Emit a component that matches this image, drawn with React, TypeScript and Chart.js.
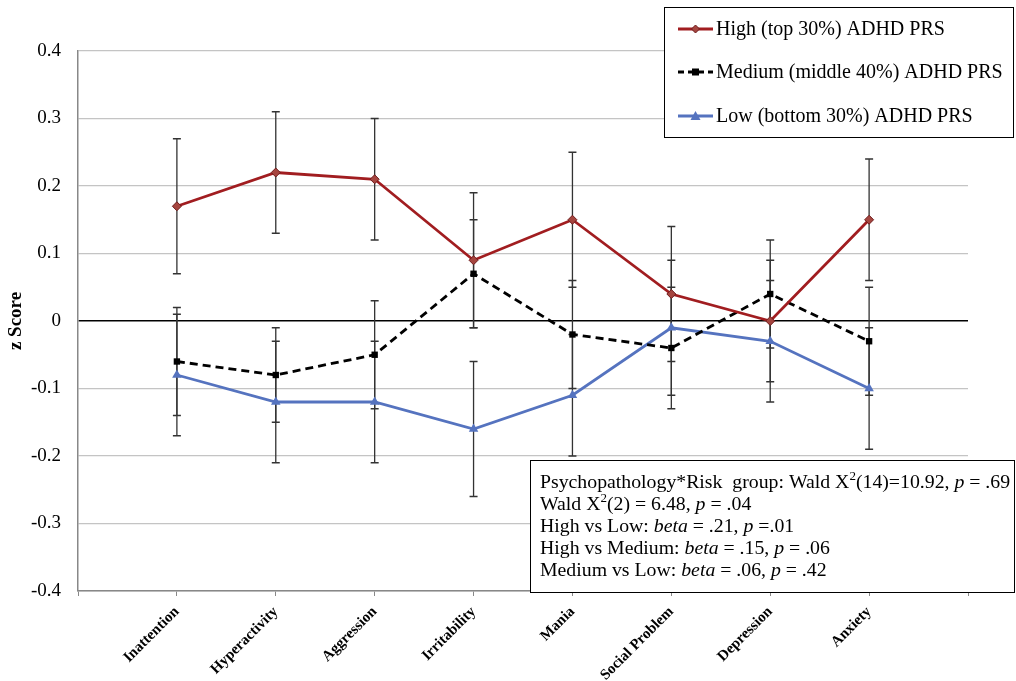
import { useEffect, useRef } from 'react';
import { Chart, registerables } from 'chart.js';

Chart.register(...registerables);

const categories = ['Inattention', 'Hyperactivity', 'Aggression', 'Irritability', 'Mania', 'Social Problem', 'Depression', 'Anxiety'];
const highMean = [0.17, 0.22, 0.21, 0.09, 0.15, 0.04, 0.0, 0.15];
const highErr = [0.10, 0.09, 0.09, 0.10, 0.10, 0.10, 0.09, 0.09];
const medMean = [-0.06, -0.08, -0.05, 0.07, -0.02, -0.04, 0.04, -0.03];
const medErr = [0.08, 0.07, 0.08, 0.08, 0.08, 0.09, 0.08, 0.08];
const lowMean = [-0.08, -0.12, -0.12, -0.16, -0.11, -0.01, -0.03, -0.10];
const lowErr = [0.09, 0.09, 0.09, 0.10, 0.09, 0.10, 0.09, 0.09];
const seriesNames = ['High (top 30%) ADHD PRS', 'Medium (middle 40%) ADHD PRS', 'Low (bottom 30%) ADHD PRS'];
const yMin = -0.4;
const yMax = 0.4;
const yStep = 0.1;

const SERIF = '"Liberation Serif", "Times New Roman", serif';
const RED = '#a11d20';
const RED_FILL = '#a5453f';
const RED_EDGE = '#6e1c1c';
const BLUE = '#5573bf';

type Seg = { t: string; it?: boolean; sup?: boolean };
const noteLines: Seg[][] = [
  [{ t: 'Psychopathology*Risk  group: Wald X' }, { t: '2', sup: true }, { t: '(14)=10.92, ' }, { t: 'p', it: true }, { t: ' = .69' }],
  [{ t: 'Wald X' }, { t: '2', sup: true }, { t: '(2) = 6.48, ' }, { t: 'p', it: true }, { t: ' = .04' }],
  [{ t: 'High vs Low: ' }, { t: 'beta', it: true }, { t: ' = .21, ' }, { t: 'p', it: true }, { t: ' =.01' }],
  [{ t: 'High vs Medium: ' }, { t: 'beta', it: true }, { t: ' = .15, ' }, { t: 'p', it: true }, { t: ' = .06' }],
  [{ t: 'Medium vs Low: ' }, { t: 'beta', it: true }, { t: ' = .06, ' }, { t: 'p', it: true }, { t: ' = .42' }],
];

const means = [highMean, medMean, lowMean];
const errs = [highErr, medErr, lowErr];

const errorBarPlugin = {
  id: 'errorBars',
  beforeDatasetsDraw(chart: any) {
    const ctx = chart.ctx;
    const xs = chart.scales.x;
    const ys = chart.scales.y;
    ctx.save();
    ctx.strokeStyle = '#333333';
    ctx.lineWidth = 1.3;
    means.forEach((m, d) => {
      m.forEach((v, i) => {
        const x = xs.getPixelForValue(i + 1);
        const yt = ys.getPixelForValue(v + errs[d][i]);
        const yb = ys.getPixelForValue(v - errs[d][i]);
        ctx.beginPath();
        ctx.moveTo(x, yt);
        ctx.lineTo(x, yb);
        ctx.moveTo(x - 4, yt);
        ctx.lineTo(x + 4, yt);
        ctx.moveTo(x - 4, yb);
        ctx.lineTo(x + 4, yb);
        ctx.stroke();
      });
    });
    ctx.restore();
  },
};

function drawMarker(ctx: CanvasRenderingContext2D, kind: number, x: number, y: number) {
  ctx.save();
  ctx.setLineDash([]);
  if (kind === 0) {
    ctx.fillStyle = RED_FILL;
    ctx.strokeStyle = RED_EDGE;
    ctx.lineWidth = 1;
    ctx.beginPath();
    ctx.moveTo(x, y - 4);
    ctx.lineTo(x + 4, y);
    ctx.lineTo(x, y + 4);
    ctx.lineTo(x - 4, y);
    ctx.closePath();
    ctx.fill();
    ctx.stroke();
  } else if (kind === 1) {
    ctx.fillStyle = '#000';
    ctx.fillRect(x - 3.5, y - 3.5, 7, 7);
  } else {
    ctx.fillStyle = BLUE;
    ctx.beginPath();
    ctx.moveTo(x, y - 5);
    ctx.lineTo(x + 5, y + 4);
    ctx.lineTo(x - 5, y + 4);
    ctx.closePath();
    ctx.fill();
  }
  ctx.restore();
}

const boxesPlugin = {
  id: 'boxes',
  afterDraw(chart: any) {
    const ctx: CanvasRenderingContext2D = chart.ctx;
    ctx.save();
    // Legend box
    const lx = 664, ly = 7, lw = 349, lh = 130;
    ctx.fillStyle = '#fff';
    ctx.fillRect(lx, ly, lw, lh);
    ctx.strokeStyle = '#000';
    ctx.lineWidth = 1;
    ctx.strokeRect(lx + 0.5, ly + 0.5, lw, lh);
    const rows = [29, 72, 116];
    const colors = [RED, '#000', BLUE];
    rows.forEach((ry, k) => {
      ctx.strokeStyle = colors[k];
      ctx.lineWidth = 2.8;
      ctx.setLineDash(k === 1 ? [6, 4] : []);
      ctx.beginPath();
      ctx.moveTo(678, ry);
      ctx.lineTo(713, ry);
      ctx.stroke();
      ctx.setLineDash([]);
      drawMarker(ctx, k, 695.5, ry);
      ctx.fillStyle = '#000';
      ctx.font = `20px ${SERIF}`;
      ctx.textBaseline = 'middle';
      ctx.textAlign = 'left';
      ctx.fillText(seriesNames[k], 716, ry + 1);
    });

    // Note box
    const nx = 530, ny = 460, nw = 484, nh = 132;
    ctx.fillStyle = '#fff';
    ctx.fillRect(nx, ny, nw, nh);
    ctx.strokeStyle = '#000';
    ctx.lineWidth = 1;
    ctx.strokeRect(nx + 0.5, ny + 0.5, nw, nh);
    ctx.fillStyle = '#000';
    ctx.textBaseline = 'alphabetic';
    noteLines.forEach((line, li) => {
      let x = 540;
      const base = 488 + li * 22;
      line.forEach((s) => {
        if (s.sup) {
          ctx.font = `13px ${SERIF}`;
          ctx.fillText(s.t, x, base - 8);
        } else {
          ctx.font = `${s.it ? 'italic ' : ''}19.8px ${SERIF}`;
          ctx.fillText(s.t, x, base);
        }
        x += ctx.measureText(s.t).width;
      });
    });
    ctx.restore();
  },
};

function formatY(v: number) {
  const r = Math.round(v * 10) / 10;
  return r === 0 ? '0' : r.toFixed(1);
}

export default function App() {
  const ref = useRef<HTMLCanvasElement | null>(null);
  useEffect(() => {
    document.body.style.margin = '0';
    if (!ref.current) return;
    const mk = (k: number) => means[k].map((y, i) => ({ x: i + 1, y }));
    const chart = new Chart(ref.current, {
      type: 'line',
      data: {
        datasets: [
          {
            label: seriesNames[0],
            data: mk(0),
            borderColor: RED,
            borderWidth: 2.8,
            pointStyle: 'rectRot',
            pointRadius: 4.5,
            pointBackgroundColor: RED_FILL,
            pointBorderColor: RED_EDGE,
            pointBorderWidth: 1,
            tension: 0,
          },
          {
            label: seriesNames[1],
            data: mk(1),
            borderColor: '#000',
            borderWidth: 2.8,
            borderDash: [8, 5],
            pointStyle: 'rect',
            pointRadius: 4.5,
            pointBackgroundColor: '#000',
            pointBorderColor: '#000',
            pointBorderWidth: 0,
            tension: 0,
          },
          {
            label: seriesNames[2],
            data: mk(2),
            borderColor: BLUE,
            borderWidth: 2.8,
            pointStyle: 'triangle',
            pointRadius: 5.5,
            pointBackgroundColor: BLUE,
            pointBorderColor: BLUE,
            pointBorderWidth: 0,
            tension: 0,
          },
        ],
      },
      options: {
        responsive: false,
        animation: false,
        devicePixelRatio: 1,
        layout: { padding: { top: 51, right: 48, bottom: 0, left: 0 } },
        plugins: { legend: { display: false }, tooltip: { enabled: false } },
        scales: {
          x: {
            type: 'linear',
            min: 0,
            max: 9,
            afterFit: (s: any) => { s.height = 90; },
            afterBuildTicks: (s: any) => { s.ticks = Array.from({ length: 10 }, (_, i) => ({ value: i })); },
            ticks: {
              stepSize: 1,
              autoSkip: false,
              minRotation: 45,
              maxRotation: 45,
              padding: 7,
              color: '#000',
              font: { family: SERIF, size: 15, weight: 'bold' },
              callback: (v: any) => categories[Number(v) - 1] ?? '',
            },
            grid: { drawOnChartArea: false, drawTicks: true, tickLength: 5, color: '#888' },
            border: { display: true, color: '#888', width: 1.5 },
          },
          y: {
            min: yMin,
            max: yMax,
            afterFit: (s: any) => { s.width = 78; },
            ticks: {
              stepSize: yStep,
              padding: 17,
              color: '#000',
              font: { family: SERIF, size: 19 },
              callback: (v: any) => formatY(Number(v)),
            },
            grid: {
              drawTicks: false,
              color: (c: any) => (Math.abs(c.tick?.value ?? 1) < 1e-9 ? '#000' : '#c4c4c4'),
              lineWidth: (c: any) => (Math.abs(c.tick?.value ?? 1) < 1e-9 ? 1.6 : 1.2),
            },
            border: { display: true, color: '#888', width: 1.5 },
            title: {
              display: true,
              text: 'z Score',
              color: '#000',
              font: { family: SERIF, size: 19, weight: 'bold' },
              padding: { top: 5, bottom: 0 },
            },
          },
        },
      },
      plugins: [errorBarPlugin, boxesPlugin],
    } as any);
    return () => chart.destroy();
  }, []);
  return (
    <div style={{ width: 1016, height: 681 }}>
      <canvas ref={ref} width={1016} height={681} style={{ width: 1016, height: 681, display: 'block' }} />
    </div>
  );
}
